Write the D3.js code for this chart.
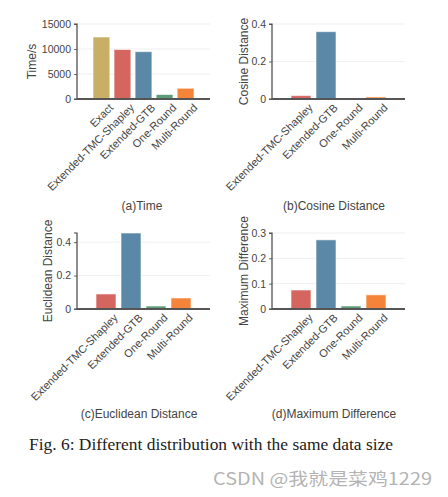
<!DOCTYPE html>
<html><head><meta charset="utf-8">
<script src="https://cdn.jsdelivr.net/npm/d3@7"></script>
<style>body{margin:0;background:#fff}</style>
</head><body>
<script>
const methodsA = ["Exact","Extended-TMC-Shapley","Extended-GTB","One-Round","Multi-Round"];
const methodsB = ["Extended-TMC-Shapley","Extended-GTB","One-Round","Multi-Round"];
const timeValues = [12400, 9900, 9470, 900, 2150];
const cosineValues = [0.018, 0.359, 0.004, 0.011];
const euclideanValues = [0.09, 0.455, 0.018, 0.066];
const maxDiffValues = [0.075, 0.273, 0.012, 0.056];
const timeTicks = [0, 5000, 10000, 15000];
const cosineTicks = [0, 0.2, 0.4];
const euclideanTicks = [0, 0.2, 0.4];
const maxDiffTicks = [0, 0.1, 0.2, 0.3];
const colorMap = {"Exact":"#c9ae68","Extended-TMC-Shapley":"#d5655f","Extended-GTB":"#5b88a7","One-Round":"#5b9d78","Multi-Round":"#f5843a"};
const panelTitles = ["(a)Time","(b)Cosine Distance","(c)Euclidean Distance","(d)Maximum Difference"];
const yLabels = ["Time/s","Cosine Distance","Euclidean Distance","Maximum Difference"];

const W = 448, H = 497;
const svg = d3.select("body").append("svg").attr("width", W).attr("height", H)
  .style("font-family", "'Liberation Sans', Arial, sans-serif");

const panels = [
  {cats: methodsA, vals: timeValues, ticks: timeTicks, ymax: 15000, x0: 77, x1: 210, yTop: 24, yBot: 99, ylx: 32, title: panelTitles[0], tx: 142, ty: 210, ylab: yLabels[0]},
  {cats: methodsB, vals: cosineValues, ticks: cosineTicks, ymax: 0.4, x0: 272, x1: 405, yTop: 24, yBot: 99, ylx: 244, title: panelTitles[1], tx: 334, ty: 210, ylab: yLabels[1]},
  {cats: methodsB, vals: euclideanValues, ticks: euclideanTicks, ymax: 0.455, x0: 77, x1: 210, yTop: 233, yBot: 309, ylx: 48, title: panelTitles[2], tx: 139, ty: 418, ylab: yLabels[2]},
  {cats: methodsB, vals: maxDiffValues, ticks: maxDiffTicks, ymax: 0.3, x0: 272, x1: 405, yTop: 233, yBot: 309, ylx: 244, title: panelTitles[3], tx: 334, ty: 418, ylab: yLabels[3]}
];

panels.forEach(p => {
  const g = svg.append("g");
  const x = d3.scaleBand().domain(p.cats).range([p.x0, p.x1]).paddingInner(0.2).paddingOuter(0.76);
  const y = d3.scaleLinear().domain([0, p.ymax]).range([p.yBot, p.yTop]);
  g.selectAll("line.grid").data(p.ticks.filter(t => t > 0)).join("line")
    .attr("x1", p.x0).attr("x2", p.x1).attr("y1", d => y(d)).attr("y2", d => y(d))
    .attr("stroke", "#efefef").attr("stroke-width", 1);
  g.selectAll("rect").data(p.cats.map((c, i) => ({c, v: p.vals[i]}))).join("rect")
    .attr("x", d => x(d.c)).attr("width", x.bandwidth())
    .attr("y", d => y(d.v)).attr("height", d => p.yBot - y(d.v))
    .attr("fill", d => colorMap[d.c])
    .attr("stroke", "rgba(255,255,255,0.6)").attr("stroke-width", 1);
  const yAxis = d3.axisLeft(y).tickValues(p.ticks).tickSize(3).tickPadding(3)
    .tickFormat(d => d === 0 ? "0" : (p.ymax > 100 ? d3.format("d")(d) : d3.format(".1f")(d)));
  const ya = g.append("g").attr("transform", `translate(${p.x0},0)`).call(yAxis);
  ya.select(".domain").attr("stroke", "#444").attr("stroke-width", 1.2).attr("d", `M-3,${p.yTop}H0V${p.yBot}H-3`);
  ya.selectAll(".tick line").attr("stroke", "#444").attr("stroke-width", 0.8);
  ya.selectAll(".tick text").attr("fill", "#444").style("font-size", "10.5px");
  g.append("line").attr("x1", p.x0).attr("x2", p.x1).attr("y1", p.yBot).attr("y2", p.yBot)
    .attr("stroke", "#555").attr("stroke-width", 2);
  g.selectAll("text.xl").data(p.cats).join("text").attr("class", "xl")
    .attr("transform", d => `translate(${x(d) + x.bandwidth() / 2 + 7},${p.yBot + 4}) rotate(-45)`)
    .attr("text-anchor", "end").attr("dy", "0.7em")
    .attr("fill", "#444").style("font-size", "11px").text(d => d);
  g.append("text").attr("transform", `translate(${p.ylx},${(p.yTop + p.yBot) / 2}) rotate(-90)`)
    .attr("text-anchor", "middle").attr("dy", "0.35em").attr("fill", "#444").style("font-size", "12px").text(p.ylab);
  g.append("text").attr("x", p.tx).attr("y", p.ty).attr("text-anchor", "middle")
    .attr("fill", "#444").style("font-size", "12px").text(p.title);
});

svg.append("text").attr("x", 29).attr("y", 450).attr("fill", "#222")
  .style("font-family", "'Liberation Serif', 'Times New Roman', serif").style("font-size", "16px")
  .attr("textLength", 364).attr("lengthAdjust", "spacingAndGlyphs")
  .text("Fig. 6: Different distribution with the same data size");
svg.append("text").attr("x", 213).attr("y", 485).attr("fill", "#b4b4b4")
  .style("font-family", "'Noto Sans CJK SC', 'Liberation Sans', sans-serif").style("font-size", "17px")
  .attr("textLength", 219).attr("lengthAdjust", "spacingAndGlyphs")
  .text("CSDN @我就是菜鸡1229");
</script>
</body></html>
